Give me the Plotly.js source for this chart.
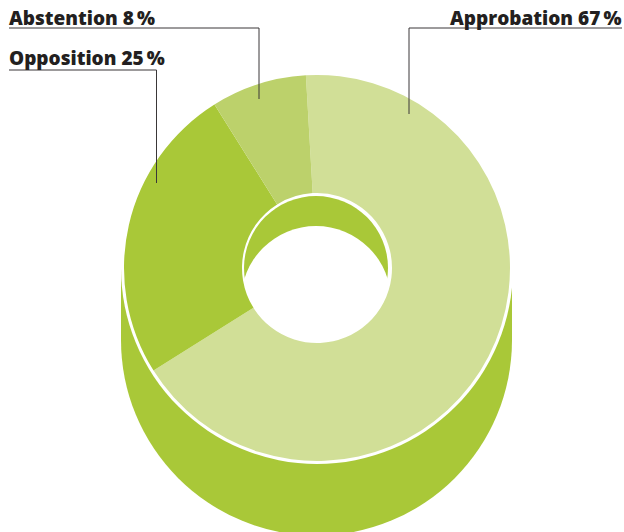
<!DOCTYPE html>
<html>
<head>
<meta charset="utf-8">
<script src="https://cdn.plot.ly/plotly-3.0.1.min.js"></script>
<style>html,body{margin:0;padding:0;background:#fff}#chart{width:624px;height:532px}</style>
</head>
<body>
<div id="chart"></div>
<script>
// Vote shares, listed clockwise from the top of the ring
const categories = ['Approbation', 'Opposition', 'Abstention'];
const shares = [67, 25, 8];
const sliceColors = ['#d1df97', '#a9c838', '#bcd16b'];
const sideColor = '#a9c838';

const W = 624, H = 532;
// Ring geometry in page pixels
const cx = 317, cy = 268, outerR = 193, holeR = 75;

const px = v => v / W;
const py = v => 1 - v / H;
const disc = (x, y, r, fill) => ({
  type: 'circle', xref: 'paper', yref: 'paper', layer: 'below',
  x0: px(x - r), x1: px(x + r), y0: py(y + r), y1: py(y - r),
  fillcolor: fill, line: {width: 0}
});
const block = (x0, y0, x1, y1, fill) => ({
  type: 'rect', xref: 'paper', yref: 'paper', layer: 'below',
  x0: px(x0), x1: px(x1), y0: py(y1), y1: py(y0),
  fillcolor: fill, line: {width: 0}
});
const leader = (pts) => ({
  type: 'path', xref: 'paper', yref: 'paper', layer: 'above',
  path: pts.map((p, i) => (i ? 'L' : 'M') + px(p[0]) + ',' + py(p[1])).join(' '),
  line: {color: '#3a3738', width: 1}
});
const labelFor = name => name + ' ' + shares[categories.indexOf(name)] + '\u2009%';
const label = (name, x, y, anchor) => ({
  xref: 'paper', yref: 'paper', x: px(x), y: py(y), xanchor: anchor, yanchor: 'bottom',
  text: labelFor(name), showarrow: false, borderpad: 0,
  font: {family: 'Open Sans, sans-serif', size: 19, weight: 800, color: '#231f20'}
});

const ring = {
  type: 'pie',
  labels: categories,
  values: shares,
  sort: false,
  direction: 'clockwise',
  rotation: -3.3,
  hole: holeR / outerR,
  marker: {colors: sliceColors, line: {width: 0}},
  textinfo: 'none',
  hoverinfo: 'skip',
  showlegend: false,
  domain: {
    x: [px(cx - outerR), px(cx + outerR)],
    y: [py(cy + outerR), py(cy - outerR)]
  }
};

const layout = {
  width: W, height: H,
  margin: {l: 0, r: 0, t: 0, b: 0},
  paper_bgcolor: '#fff',
  showlegend: false,
  shapes: [
    block(121, cy, 512, 340, sideColor),     // straight part of the extruded side
    disc(316.5, 340, 195.5, sideColor),      // rounded bottom of the extruded side
    disc(cx, cy, outerR + 3, '#fff'),        // white rim around the top face
    disc(316, cy, holeR, '#fff'),            // white rim around the hole
    disc(316, cy, holeR - 3, sideColor),     // inner wall seen through the hole
    disc(316, 301, holeR, '#fff'),           // opening at the bottom of the hole
    leader([[9, 28], [259, 28], [259, 99]]),
    leader([[9, 70], [156.5, 70], [156.5, 183]]),
    leader([[622, 28], [409, 28], [409, 114]])
  ],
  annotations: [
    label('Abstention', 8, 32, 'left'),
    label('Opposition', 8, 72, 'left'),
    label('Approbation', 622, 32, 'right')
  ]
};

Plotly.newPlot('chart', [ring], layout, {displayModeBar: false, staticPlot: true});
</script>
</body>
</html>
